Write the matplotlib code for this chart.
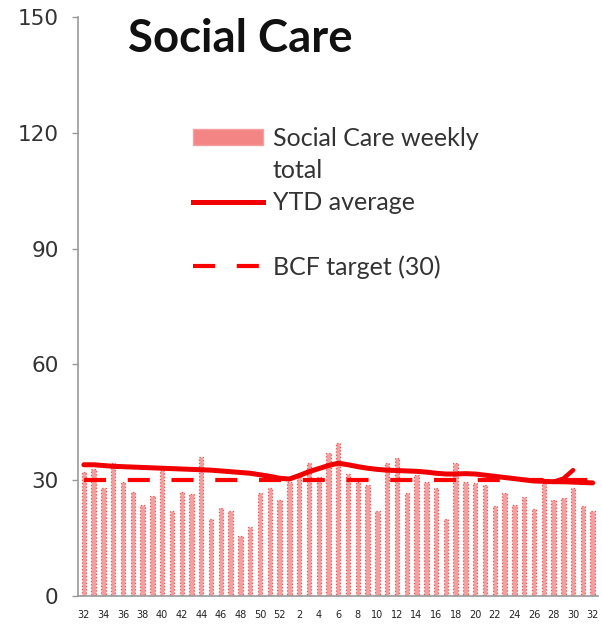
import numpy as np
import matplotlib.pyplot as plt
from matplotlib.patches import Patch
from matplotlib.lines import Line2D

# week numbers: 32..52 then 1..32
weeks = list(range(32, 53)) + list(range(1, 33))

# weekly totals
weekly_total = [
    32, 33, 28, 34.5, 29.6, 27, 23.6, 25.9, 32.6, 22.1, 27, 26.4, 36, 19.9,
    22.8, 22.1, 15.5, 17.9, 26.8, 28, 24.9,
    29.6, 31.6, 34.5, 30.9, 37, 39.7, 31.6, 29.6, 28.8, 22.1, 34.5, 35.7,
    26.8, 31.3, 29.6, 27.9, 19.9, 34.5, 29.6, 29.2, 28.8, 23.3, 26.8, 23.6,
    25.7, 22.5, 29.2, 24.9, 25.3, 27.9, 23.3, 22.1,
]

# year-to-date average
ytd_avg = [
    34.0, 34.0, 33.8, 33.6, 33.5, 33.4, 33.3, 33.2, 33.1, 33.0, 32.9, 32.8,
    32.7, 32.6, 32.4, 32.2, 32.0, 31.8, 31.4, 31.0, 30.5,
    30.3, 31.2, 32.2, 33.0, 33.8, 34.4, 34.0, 33.5, 33.1, 32.8, 32.6, 32.5,
    32.4, 32.3, 32.1, 31.8, 31.6, 31.6, 31.7, 31.6, 31.3, 31.0, 30.7, 30.4,
    30.1, 29.8, 29.7, 29.6, 29.6, 29.5, 29.4, 29.3,
]

# short restart of the average near the end
ytd_restart_idx = [48, 49, 50]
ytd_restart = [29.6, 30.4, 32.6]

bcf_target = 30

x = np.arange(len(weeks))
tick_pos = x[::2]
tick_labels = [str(w) for w in weeks[::2]]

bar_face = '#f4a0a0'
bar_edge = '#e05a5a'
red = '#f00000'
dash = (5.3, 5.2)

fig = plt.figure(figsize=(6.02, 6.32), dpi=100)
ax = fig.add_axes([0.1296, 0.057, 0.863, 0.916])

ax.bar(x, weekly_total, width=0.45, color=bar_face, edgecolor=bar_edge,
       linewidth=0.9, linestyle=':', zorder=2)
ax.plot(x, [bcf_target] * len(x), color='#ff0000', linewidth=3,
        dashes=dash, zorder=3)
ax.plot(x, ytd_avg, color=red, linewidth=3.6, zorder=4,
        solid_capstyle='round')
ax.plot(ytd_restart_idx, ytd_restart, color=red, linewidth=3.2,
        zorder=4, solid_capstyle='round')

ax.set_xlim(-0.6, 52.5)
ax.set_ylim(0, 150)
ax.set_yticks(np.arange(0, 151, 30))
ax.set_xticks(tick_pos)
ax.set_xticklabels(tick_labels)

ax.tick_params(axis='y', labelsize=15.5, length=4, width=1, color='#999999',
               pad=10, labelcolor='#333333')
ax.tick_params(axis='x', labelsize=7, length=0, pad=10, labelcolor='#222222')

for side in ['top', 'right']:
    ax.spines[side].set_visible(False)
for side in ['left', 'bottom']:
    ax.spines[side].set_color('#999999')
    ax.spines[side].set_linewidth(1.2)

fig.text(0.213, 0.918, 'Social Care', fontsize=32.8, fontweight='bold',
         family='Lato', color='#111111', va='baseline')

# legend rows: the weekly label wraps onto a second row, and a blank row
# sits between the two lines
blank = Line2D([], [], color='none')
handles = [
    Patch(facecolor='#f38585', edgecolor='#f4a0a0'),
    blank,
    Line2D([], [], color=red, linewidth=3.6),
    blank,
    Line2D([], [], color='#ff0000', linewidth=3, dashes=dash),
]
labels = ['Social Care weekly', 'total', 'YTD average', '', 'BCF target (30)']
leg = ax.legend(handles, labels, loc='upper left',
                bbox_to_anchor=(0.2214, 0.81), frameon=False,
                prop={'family': 'Lato', 'size': 18},
                borderpad=0, borderaxespad=0,
                handlelength=2.78, handleheight=0.6, handletextpad=0.4,
                labelspacing=0.36)
for t in leg.get_texts():
    t.set_color('#333333')

fig.savefig('out.png', dpi=100)
